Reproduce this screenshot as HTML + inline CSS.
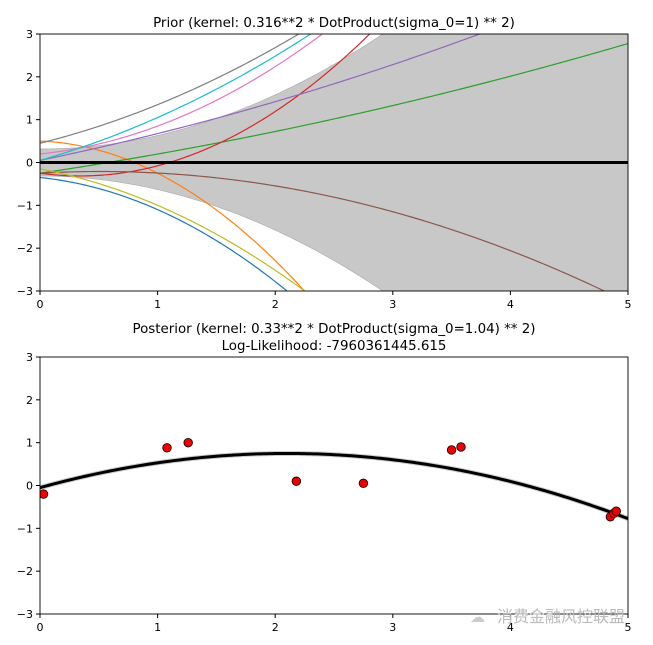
<!DOCTYPE html>
<html><head><meta charset="utf-8"><style>
html,body{margin:0;background:#fff;overflow:hidden;width:653px;height:645px;}
svg{display:block;font-family:"DejaVu Sans","Liberation Sans",sans-serif;}
</style></head><body>
<svg id="s" width="653" height="645" viewBox="0 0 653 645" xmlns="http://www.w3.org/2000/svg">
<text x="334" y="27" font-size="13.4" text-anchor="middle">Prior (kernel:  0.316**2 * DotProduct(sigma_0=1) ** 2)</text>
<text x="334" y="333" font-size="13.4" text-anchor="middle">Posterior (kernel: 0.33**2 * DotProduct(sigma_0=1.04) ** 2)</text>
<text x="334" y="350" font-size="13.4" text-anchor="middle">Log-Likelihood: -7960361445.615</text>
<g id="g"></g>
<text x="497" y="622" font-size="16" fill="#bbb" font-family="'Noto Sans CJK SC',sans-serif">消费金融风控联盟</text>
<text x="470" y="622" font-size="15" fill="#ccc">☁</text>
</svg>
<script>
var X0=40,X1=628,sx=(X1-X0)/5;
function px(x){return X0+x*sx;}
function py(y,top){var c=top?162.5:485.5;return c-y*(257/6);}
var out='';
function clipR(id,t){out+='<clipPath id="'+id+'"><rect x="40" y="'+t+'" width="588" height="257"/></clipPath>';}
clipR('c1',34);clipR('c2',357);
var up=[],dn=[];
for(var i=0;i<=200;i++){var x=5*i/200,s=0.316*(1+x*x);up.push(px(x)+','+py(s,1));dn.unshift(px(x)+','+py(-s,1));}
out+='<g clip-path="url(#c1)"><polygon points="'+up.concat(dn).join(' ')+'" fill="#c8c8c8" stroke="#aaa" stroke-width="0.6"/>';
var curves=[
['#1f77b4',-0.35,-0.285,-0.465],['#ff7f0e',0.5,-0.105,-0.645],['#2ca02c',-0.25,0.408,0.0395],
['#d62728',-0.25,-0.374,0.547],['#9467bd',0.05,0.565,0.06],['#8c564b',-0.25,0.156,-0.152],
['#e377c2',0.2,0.281,0.369],['#7f7f7f',0.45,0.684,0.216],['#bcbd22',-0.15,-0.517,-0.333],['#17becf',0.05,0.783,0.217]];
curves.forEach(function(c){var p=[];for(var i=0;i<=200;i++){var x=5*i/200,y=c[1]+c[2]*x+c[3]*x*x;p.push(px(x)+','+py(y,1));}
out+='<polyline points="'+p.join(' ')+'" fill="none" stroke="'+c[0]+'" stroke-width="1.2"/>';});
out+='<line x1="40" y1="162.5" x2="628" y2="162.5" stroke="#000" stroke-width="3"/></g>';
var p=[];for(var i=0;i<=200;i++){var x=5*i/200,y=-0.05-0.181*(x*x-4.2*x);p.push(px(x)+','+py(y,0));}
out+='<g clip-path="url(#c2)"><polyline points="'+p.join(' ')+'" fill="none" stroke="#ccc" stroke-width="5"/><polyline points="'+p.join(' ')+'" fill="none" stroke="#000" stroke-width="3"/>';
[[0.03,-0.2],[1.08,0.88],[1.26,1.0],[2.18,0.1],[2.75,0.05],[3.5,0.83],[3.58,0.9],[4.85,-0.73],[4.88,-0.65],[4.9,-0.6]].forEach(function(d){
out+='<circle cx="'+px(d[0])+'" cy="'+py(d[1],0)+'" r="4.3" fill="#e00" stroke="#000" stroke-width="0.8"/>';});
out+='</g>';
[[34,1],[357,0]].forEach(function(a){var t=a[0];
out+='<rect x="40" y="'+t+'" width="588" height="257" fill="none" stroke="#000" stroke-width="0.9"/>';
for(var k=0;k<=5;k++){var x=px(k);out+='<line x1="'+x+'" y1="'+(t+257)+'" x2="'+x+'" y2="'+(t+261)+'" stroke="#000"/><text x="'+x+'" y="'+(t+274)+'" font-size="11" text-anchor="middle">'+k+'</text>';}
for(var v=-3;v<=3;v++){var y=py(v,a[1]);out+='<line x1="36" y1="'+y+'" x2="40" y2="'+y+'" stroke="#000"/><text x="33" y="'+(y+4)+'" font-size="11" text-anchor="end">'+(v<0?'\u2212'+(-v):v)+'</text>';}
});
document.getElementById('g').innerHTML=out;
</script>
</body></html>
